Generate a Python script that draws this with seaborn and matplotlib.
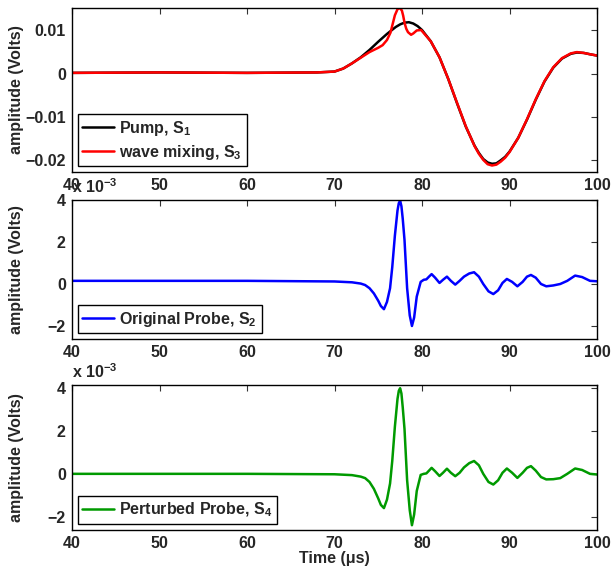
import matplotlib
matplotlib.use("Agg")
import matplotlib.pyplot as plt
import seaborn as sns
import pandas as pd
from matplotlib.ticker import FuncFormatter, FixedLocator

# ---------------- data ----------------
pump_t = [40, 50, 60, 68, 70, 71, 72, 73, 74, 75, 76, 77, 77.5, 78, 78.5, 79, 79.5, 80, 81,
          82, 83, 84, 85, 86, 86.5, 87, 87.5, 88, 88.5, 89, 89.5, 90, 91, 92, 93, 94, 95,
          96, 97, 97.7, 98.5, 99.2, 100]
pump_v = [0.0002, 0.0003, 0.0002, 0.0003, 0.0005, 0.0012, 0.0024, 0.0038, 0.0055, 0.0074,
          0.0092, 0.0108, 0.0114, 0.0118, 0.0119, 0.0116, 0.0110, 0.0101, 0.0075, 0.0038,
          -0.0012, -0.0068, -0.0122, -0.0166, -0.0183, -0.0197, -0.0205, -0.0208, -0.0207,
          -0.0200, -0.0192, -0.0180, -0.0148, -0.0106, -0.0060, -0.0018, 0.0014, 0.0035,
          0.0046, 0.0049, 0.0048, 0.0045, 0.0042]

mix_t = [40, 50, 60, 68, 70, 71, 72, 73, 74, 75, 75.5, 76, 76.4, 76.65, 76.9, 77.2, 77.45,
         77.7, 77.85, 78.0, 78.2, 78.4, 78.75, 79.0, 79.4, 79.9, 81, 82, 83, 84, 85, 86,
         86.5, 87, 87.5, 88, 88.5, 89, 89.5, 90, 91, 92, 93, 94, 95, 96, 97, 97.7, 98.5,
         99.2, 100]
mix_v = [0.0002, 0.0003, 0.0002, 0.0003, 0.0005, 0.0012, 0.0024, 0.0037, 0.0050, 0.0060,
         0.0066, 0.0078, 0.0095, 0.0115, 0.0135, 0.0149, 0.0152, 0.0146, 0.0134, 0.0118,
         0.0104, 0.0096, 0.0090, 0.0093, 0.0100, 0.0101, 0.0075, 0.0038, -0.0012, -0.0067,
         -0.0121, -0.0167, -0.0185, -0.0199, -0.0209, -0.0212, -0.0210, -0.0203, -0.0194,
         -0.0181, -0.0148, -0.0105, -0.0059, -0.0017, 0.0015, 0.0036, 0.0047, 0.0050,
         0.0048, 0.0045, 0.0042]

probe_t = [40, 50, 60, 70, 72, 73, 73.5, 74, 74.5, 75, 75.3, 75.65, 76, 76.35, 76.6, 76.9,
           77.2, 77.35, 77.5, 77.65, 77.8, 78.0, 78.3, 78.6, 78.85, 79.1, 79.4, 79.85, 80.2,
           80.5, 80.8, 81.1, 81.5, 82.0, 82.4, 82.85, 83.3, 83.8, 84.3, 84.8, 85.4, 85.95,
           86.5, 87.0, 87.6, 88.15, 88.7, 89.2, 89.7, 90.3, 90.9, 91.5, 92.0, 92.45, 93.0,
           93.6, 94.2, 95.0, 95.8, 96.6, 97.5, 98.3, 99.2, 100]
# millivolts
orig_mv = [0.15, 0.15, 0.15, 0.12, 0.08, 0.02, -0.05, -0.2, -0.45, -0.8, -1.05, -1.2, -0.85,
           -0.2, 0.8, 2.3, 3.5, 3.85, 3.97, 3.7, 3.1, 2.1, -0.2, -1.5, -2.0, -1.6, -0.6, 0.1,
           0.2, 0.22, 0.35, 0.47, 0.3, 0.05, 0.2, 0.35, 0.15, -0.03, 0.15, 0.35, 0.5, 0.56,
           0.35, 0.0, -0.35, -0.48, -0.3, 0.05, 0.24, 0.1, -0.11, 0.1, 0.35, 0.43, 0.3, 0.0,
           -0.11, -0.07, 0.0, 0.15, 0.4, 0.33, 0.15, 0.13]
pert_mv = [0.0, 0.0, 0.0, -0.02, -0.06, -0.13, -0.2, -0.38, -0.7, -1.15, -1.45, -1.6, -1.2,
           -0.45, 0.6, 2.2, 3.5, 3.88, 4.0, 3.75, 3.1, 2.1, -0.3, -1.7, -2.4, -1.9, -0.8,
           -0.05, 0.0, 0.02, 0.15, 0.28, 0.12, -0.1, 0.05, 0.24, 0.05, -0.11, 0.05, 0.3, 0.5,
           0.6, 0.4, 0.0, -0.38, -0.5, -0.3, 0.05, 0.25, 0.05, -0.19, 0.05, 0.28, 0.36, 0.15,
           -0.15, -0.26, -0.25, -0.2, 0.0, 0.25, 0.18, 0.0, -0.03]

x_ticks = [40, 50, 60, 70, 80, 90, 100]

# ---------------- style ----------------
sns.set_theme(style="white")
plt.rcParams["font.family"] = ["Liberation Sans", "DejaVu Sans"]
plt.rcParams["font.weight"] = "bold"
plt.rcParams["axes.labelweight"] = "bold"
plt.rcParams["mathtext.fontset"] = "custom"
plt.rcParams["mathtext.rm"] = "Liberation Sans:bold"
plt.rcParams["mathtext.bf"] = "Liberation Sans:bold"
plt.rcParams["mathtext.it"] = "Liberation Sans:bold"
plt.rcParams["mathtext.default"] = "bf"
plt.rcParams["axes.unicode_minus"] = True

FS = 11.5
fig = plt.figure(figsize=(6.12, 5.70), dpi=100)
W, H = 612.0, 570.0
left, right = 72, 597
boxes = [(7.5, 172), (200, 339), (385, 529.5)]
axes = [fig.add_axes([left / W, 1 - b / H, (right - left) / W, (b - t) / H]) for t, b in boxes]

df_pump = pd.DataFrame({"t": pump_t, "v": pump_v})
df_mix = pd.DataFrame({"t": mix_t, "v": mix_v})
df_orig = pd.DataFrame({"t": probe_t, "v": [m * 1e-3 for m in orig_mv]})
df_pert = pd.DataFrame({"t": probe_t, "v": [m * 1e-3 for m in pert_mv]})

LW = 1.8
sns.lineplot(data=df_pump, x="t", y="v", ax=axes[0], color="black", lw=LW,
             label=r"Pump, S$_1$", estimator=None, sort=False)
sns.lineplot(data=df_mix, x="t", y="v", ax=axes[0], color="#ff0000", lw=LW,
             label=r"wave mixing, S$_3$", estimator=None, sort=False)
sns.lineplot(data=df_orig, x="t", y="v", ax=axes[1], color="#0000ff", lw=LW,
             label=r"Original Probe, S$_2$", estimator=None, sort=False)
sns.lineplot(data=df_pert, x="t", y="v", ax=axes[2], color="#009a00", lw=LW,
             label=r"Perturbed Probe, S$_4$", estimator=None, sort=False)

ylims = [(-0.0227, 0.0153), (-2.62e-3, 4.0e-3), (-2.6e-3, 4.15e-3)]
yticks = [[-0.02, -0.01, 0, 0.01], [-2e-3, 0, 2e-3, 4e-3], [-2e-3, 0, 2e-3, 4e-3]]

def fmt_top(v, pos):
    if abs(v) < 1e-12:
        return "0"
    return f"{v:.2f}".replace("-", "\u2212")

def fmt_milli(v, pos):
    n = int(round(v * 1e3))
    return str(n).replace("-", "\u2212")

for i, ax in enumerate(axes):
    ax.set_xlim(40, 100)
    ax.set_ylim(*ylims[i])
    ax.xaxis.set_major_locator(FixedLocator(x_ticks))
    ax.yaxis.set_major_locator(FixedLocator(yticks[i]))
    ax.yaxis.set_major_formatter(FuncFormatter(fmt_top if i == 0 else fmt_milli))
    ax.tick_params(direction="in", length=4, width=0.8, top=True, right=True,
                   labelsize=FS, pad=4.5, color="#333333")
    for lab in ax.get_xticklabels() + ax.get_yticklabels():
        lab.set_fontweight("bold")
    for sp in ax.spines.values():
        sp.set_color("black")
        sp.set_linewidth(1.0)
    ax.set_ylabel("amplitude (Volts)", fontsize=FS, fontweight="bold")
    ax.yaxis.set_label_coords(-0.092, 0.5)
    ax.set_xlabel("")
    leg = ax.legend(loc="lower left", fontsize=FS, frameon=True, fancybox=False,
                    edgecolor="black", framealpha=1, handlelength=2.0, handletextpad=0.3,
                    borderaxespad=0.35, borderpad=0.3, labelspacing=0.3)
    leg.get_frame().set_linewidth(1.0)
    for txt in leg.get_texts():
        txt.set_fontweight("bold")
    if i > 0:
        ax.annotate(r"x 10$^{-3}$", xy=(0, 1), xycoords="axes fraction",
                    xytext=(0, 3), textcoords="offset points", ha="left", va="bottom",
                    fontsize=FS, fontweight="bold")

axes[2].set_xlabel("Time (\u03bcs)", fontsize=FS, fontweight="bold", labelpad=0)

fig.savefig("out.png", dpi=100)
